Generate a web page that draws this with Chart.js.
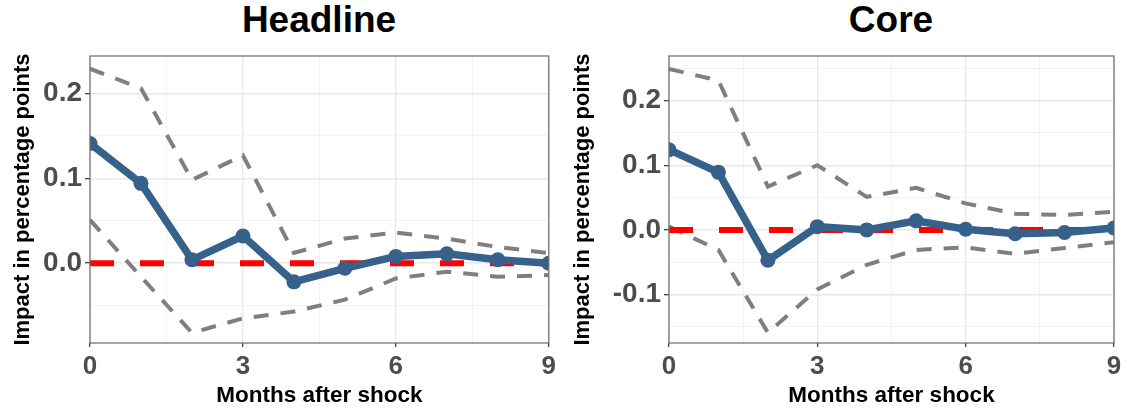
<!DOCTYPE html>
<html>
<head>
<meta charset="utf-8">
<script src="https://cdn.jsdelivr.net/npm/chart.js@4.4.0/dist/chart.umd.min.js"></script>
<style>
  html, body { margin: 0; padding: 0; background: #ffffff; }
  body { width: 1127px; height: 412px; position: relative; overflow: hidden; font-family: 'Liberation Sans', Arial, sans-serif; }
  .title { position: absolute; top: 1px; font-weight: bold; font-size: 37px; line-height: 37px; color: #000; text-align: center; white-space: nowrap; }
  #wrapL { position: absolute; left: 0; top: 0; width: 560px; height: 412px; }
  #wrapR { position: absolute; left: 560px; top: 0; width: 567px; height: 412px; }
</style>
</head>
<body>
<div class="title" style="left:219px;width:200px;">Headline</div>
<div class="title" style="left:791px;width:200px;">Core</div>
<div id="wrapL"><canvas id="cL" width="560" height="412"></canvas></div>
<div id="wrapR"><canvas id="cR" width="567" height="412"></canvas></div>
<script>
// ---- data ----
const months = [0, 1, 2, 3, 4, 5, 6, 7, 8, 9];
const headlineIRF   = [0.141, 0.094, 0.004, 0.032, -0.022, -0.006, 0.008, 0.011, 0.004, 0.000];
const headlineUpper = [0.229, 0.206, 0.098, 0.127, 0.012, 0.029, 0.036, 0.029, 0.019, 0.012];
const headlineLower = [0.051, -0.016, -0.082, -0.065, -0.057, -0.043, -0.018, -0.010, -0.016, -0.014];
const coreIRF   = [0.124, 0.089, -0.047, 0.005, 0.000, 0.014, 0.001, -0.006, -0.004, 0.003];
const coreUpper = [0.249, 0.231, 0.067, 0.100, 0.051, 0.065, 0.041, 0.025, 0.023, 0.028];
const coreLower = [0.005, -0.031, -0.159, -0.092, -0.054, -0.031, -0.027, -0.037, -0.028, -0.019];
const zeroRef = 0;
const xGridValues = [0, 1.5, 3, 4.5, 6, 7.5, 9];
const xTickLabels = [0, 3, 6, 9];
const headlineYGrid = [-0.05, 0, 0.05, 0.1, 0.15, 0.2];
const coreYGrid = [-0.15, -0.1, -0.05, 0, 0.05, 0.1, 0.15, 0.2, 0.25];
const yTickLabelsHeadline = ['0.0', '0.1', '0.2'];
const yTickLabelsCore = ['-0.1', '0.0', '0.1', '0.2'];
const headlineRange = [-0.094, 0.244];
const coreRange = [-0.175, 0.269];

const FONT = "'Liberation Sans', Arial, sans-serif";
const BLUE = '#35618a';
const GREY = '#7f7f7f';
const RED = '#ff0000';

function pts(vals) { return months.map((m, i) => ({ x: m, y: vals[i] })); }
function refLine(v) { return [{ x: months[0], y: v }, { x: months[months.length - 1], y: v }]; }
function isMajorY(v) { return Math.abs(v * 10 - Math.round(v * 10)) < 1e-6; }

const panelBorder = {
  id: 'panelBorder',
  afterDatasetsDraw(chart) {
    const { ctx, chartArea: a } = chart;
    ctx.save();
    ctx.strokeStyle = '#6b6b6b';
    ctx.lineWidth = 1.2;
    ctx.strokeRect(a.left, a.top, a.right - a.left, a.bottom - a.top);
    ctx.restore();
  }
};

function makeChart(id, irf, up, lo, yGrid, yLabels, range, yAxisWidth, padRight) {
  const ctx = document.getElementById(id);
  return new Chart(ctx, {
    type: 'line',
    data: {
      datasets: [
        { data: pts(irf), borderColor: BLUE, backgroundColor: BLUE, borderWidth: 7.5,
          pointRadius: 7.5, pointHoverRadius: 7.5, pointBorderWidth: 0, tension: 0, clip: 0 },
        { data: refLine(zeroRef), borderColor: RED, borderWidth: 6, borderDash: [24, 26],
          pointRadius: 0, clip: 0 },
        { data: pts(up), borderColor: GREY, borderWidth: 4, borderDash: [15, 12],
          pointRadius: 0, clip: 0 },
        { data: pts(lo), borderColor: GREY, borderWidth: 4, borderDash: [15, 12],
          pointRadius: 0, clip: 0 }
      ]
    },
    options: {
      responsive: false,
      animation: false,
      events: [],
      layout: { padding: { top: 56, right: padRight, left: 0, bottom: 0 }, autoPadding: false },
      plugins: { legend: { display: false }, tooltip: { enabled: false }, title: { display: false } },
      scales: {
        x: {
          type: 'linear', min: 0, max: 9,
          afterBuildTicks: (s) => { s.ticks = xGridValues.map(v => ({ value: v })); },
          afterFit: (s) => { s.height = 412 - 343; },
          ticks: {
            autoSkip: false, maxRotation: 0, padding: 4,
            color: '#4d4d4d',
            font: { family: FONT, size: 26, weight: 'bold' },
            callback: (v) => xTickLabels.includes(v) ? String(v) : ''
          },
          grid: {
            color: (c) => xTickLabels.includes(c.tick && c.tick.value) ? '#e8e8e8' : '#f1f1f1',
            lineWidth: (c) => xTickLabels.includes(c.tick && c.tick.value) ? 1.4 : 0.9,
            tickLength: 4,
            tickColor: (c) => xTickLabels.includes(c.tick && c.tick.value) ? '#333333' : 'rgba(0,0,0,0)',
            tickWidth: 1.2
          },
          border: { display: false },
          title: {
            display: true, text: 'Months after shock', color: '#000',
            font: { family: FONT, size: 22.5, weight: 'bold', lineHeight: 1.2 },
            padding: { top: 0, bottom: 3 }
          }
        },
        y: {
          type: 'linear', min: range[0], max: range[1],
          afterBuildTicks: (s) => { s.ticks = yGrid.map(v => ({ value: v })); },
          afterFit: (s) => { s.width = yAxisWidth; },
          ticks: {
            autoSkip: false,
            padding: 3, color: '#4d4d4d',
            font: { family: FONT, size: 28, weight: 'bold' },
            callback: (v) => { const t = v.toFixed(1); return (isMajorY(v) && yLabels.includes(t)) ? t : ''; }
          },
          grid: {
            color: (c) => isMajorY(c.tick ? c.tick.value : 0) ? '#e8e8e8' : '#f1f1f1',
            lineWidth: (c) => isMajorY(c.tick ? c.tick.value : 0) ? 1.4 : 0.9,
            tickLength: 5,
            tickColor: (c) => isMajorY(c.tick ? c.tick.value : 0) ? '#333333' : 'rgba(0,0,0,0)',
            tickWidth: 1.2
          },
          border: { display: false },
          title: {
            display: true, text: 'Impact in percentage points', color: '#000',
            font: { family: FONT, size: 22, weight: 'bold', lineHeight: 1.2 },
            padding: { top: 10, bottom: 0 }
          }
        }
      }
    },
    plugins: [panelBorder]
  });
}

makeChart('cL', headlineIRF, headlineUpper, headlineLower, headlineYGrid, yTickLabelsHeadline, headlineRange, 90, 10);
makeChart('cR', coreIRF, coreUpper, coreLower, coreYGrid, yTickLabelsCore, coreRange, 109, 13);
</script>
</body>
</html>
